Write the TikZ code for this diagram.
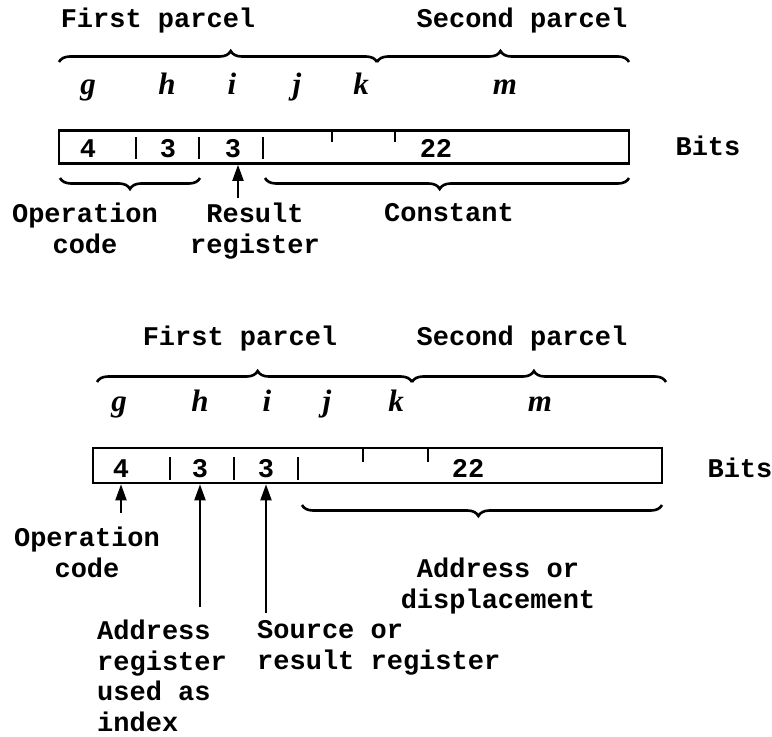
\documentclass[tikz,border=0pt]{standalone}
\usepackage{fontspec}
\setmonofont{Liberation Mono}
\newfontfamily\varfont{Liberation Serif}
\usepackage{tikz}
\usetikzlibrary{arrows.meta,positioning,decorations.pathreplacing}
\tikzset{
  fldbox/.style={
    draw=black, line width=2.6pt, inner sep=0pt,
    minimum height=33pt
  },
  num/.style={font=\fontsize{27}{31}\selectfont\ttfamily\bfseries, inner sep=0pt, anchor=base},
  lbl/.style={font=\fontsize{27}{31}\selectfont\ttfamily\bfseries, inner sep=0pt, align=center, anchor=north},
  lbll/.style={lbl, align=left, anchor=north west},
  var/.style={font=\fontsize{31}{32}\selectfont\varfont\bfseries\itshape, inner sep=0pt, anchor=base},
  sep/.style={draw=black, line width=2.4pt},
  brc/.style={decorate, decoration={brace, amplitude=11pt}, line width=2.6pt},
  arr/.style={-{Triangle[length=16pt,width=11pt]}, draw=black, line width=2pt}
}

\begin{document}
\begin{tikzpicture}[x=1pt, y=-1pt]
  \useasboundingbox (0,0) rectangle (772,737);
  % first format
  \node[num] (fpA) at (158,27) {First parcel};
  \node[num] (spA) at (522,27) {Second parcel};
  \draw[brc, decoration={aspect=0.54}] (59,62) -- (377,62);
  \draw[brc, decoration={aspect=0.49}] (377,62) -- (629,62);
  \node[var] (gA) at (88,94) {g};
  \node[var] (hA) at (167,94) {h};
  \node[var] (iA) at (232,94) {i};
  \node[var] (jA) at (297,94) {j};
  \node[var] (kA) at (361,94) {k};
  \node[var] (mA) at (505,94) {m};
  \node[fldbox, minimum width=570pt] (wA) at (344,147) {};
  \node[num] (f4A) at (88,157) {4};
  \node[num] (f3A) at (168,157) {3};
  \node[num] (r3A) at (233,157) {3};
  \node[num] (c22A) at (436,157) {22};
  \node[num] (bitsA) at (708,155) {Bits};
  \draw[sep] (136,137) -- (136,159);
  \draw[sep] (199,137) -- (199,159);
  \draw[sep] (263,137) -- (263,159);
  \draw[sep] (332,131) -- (332,142);
  \draw[sep] (395,131) -- (395,142);
  \draw[brc] (200,178) -- (60,178);
  \draw[brc, decoration={aspect=0.52}] (629,178) -- (265,178);
  \node[lbl] (opA) at (85,203) {Operation\\code};
  \node[lbl] (resA) at (255,203) {Result\\register};
  \node[lbl] (conA) at (449,203) {Constant};
  \coordinate (tA) at (238,198);
  \draw[arr] (tA) -- (tA |- wA.south);

  % second format
  \node[num] (fpB) at (240,345) {First parcel};
  \node[num] (spB) at (522,345) {Second parcel};
  \draw[brc, decoration={aspect=0.51}] (97,382) -- (412,382);
  \draw[brc, decoration={aspect=0.48}] (412,382) -- (666,382);
  \node[var] (gB) at (119,411) {g};
  \node[var] (hB) at (200,411) {h};
  \node[var] (iB) at (267,411) {i};
  \node[var] (jB) at (327,411) {j};
  \node[var] (kB) at (396,411) {k};
  \node[var] (mB) at (540,411) {m};
  \node[fldbox, minimum width=569pt, minimum height=35pt] (wB) at (377.5,465.5) {};
  \node[num] (f4B) at (121,477) {4};
  \node[num] (f3B) at (200,477) {3};
  \node[num] (r3B) at (266,477) {3};
  \node[num] (c22B) at (468,477) {22};
  \node[num] (bitsB) at (740,477) {Bits};
  \draw[sep] (170,457) -- (170,480);
  \draw[sep] (234,457) -- (234,480);
  \draw[sep] (298,457) -- (298,480);
  \draw[sep] (363,448) -- (363,462);
  \draw[sep] (428,448) -- (428,462);
  \draw[brc, decoration={aspect=0.51}] (662,505) -- (302,505);
  \node[lbl] (opB) at (87,527) {Operation\\code};
  \node[lbl] (adB) at (498,558) {Address or\\displacement};
  \node[lbll, font=\fontsize{27}{30.5}\selectfont\ttfamily\bfseries] (ixB) at (97,620) {Address\\register\\used as\\index};
  \node[lbll] (srB) at (257,620) {Source or\\result register};
  \coordinate (tB1) at (121,513);
  \coordinate (tB2) at (200,607);
  \coordinate (tB3) at (266,613);
  \draw[arr] (tB1) -- (tB1 |- wB.south);
  \draw[arr] (tB2) -- (tB2 |- wB.south);
  \draw[arr] (tB3) -- (tB3 |- wB.south);
\end{tikzpicture}
\end{document}
